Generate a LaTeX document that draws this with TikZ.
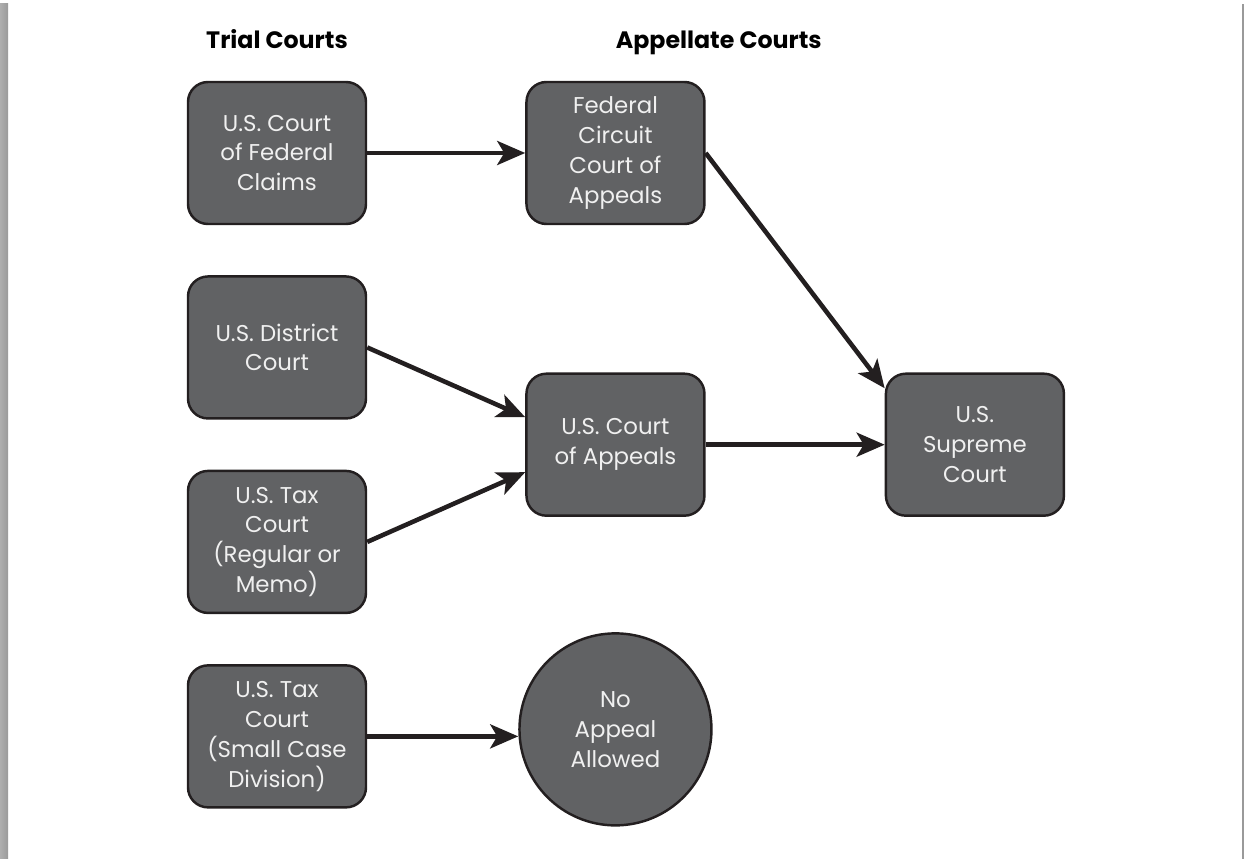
\documentclass[tikz,border=0pt]{standalone}
\usepackage{fontspec}
\setmainfont{Poppins}
\usepackage{tikz}
\usetikzlibrary{arrows.meta, positioning, shapes.geometric, calc}
\definecolor{courtgray}{HTML}{616264}
\definecolor{inkblack}{HTML}{231F20}
\definecolor{framegray}{HTML}{9A9A9A}

\begin{document}
\begin{tikzpicture}[
  node distance=1.0cm and 3.16cm,
  court/.style={draw=inkblack, line width=1.4pt, rounded corners=0.4cm, fill=courtgray, text=white!94!black,
    align=center, minimum width=3.56cm, minimum height=2.84cm, inner sep=2pt,
    font=\fontsize{13}{17}\selectfont},
  verdict/.style={circle, draw=inkblack, line width=1.4pt, fill=courtgray, text=white!94!black,
    align=center, minimum size=3.84cm, inner sep=0pt, font=\fontsize{13}{17}\selectfont},
  header/.style={inner sep=0pt, font=\fontsize{13.5}{15}\selectfont\bfseries},
  arrow/.style={-{Stealth[length=0.56cm, width=0.48cm, inset=0.14cm]}, line width=2.6pt, draw=inkblack}
]
  \useasboundingbox (0,0) rectangle (24.9,-17.18);
  % page frame
  \shade[left color=framegray!80, right color=framegray] (0,-0.08) rectangle (0.16,-17.18);
  \fill[framegray] (24.84,-0.08) rectangle (24.88,-17.18);

  % trial courts
  \node[court] (claims) at (5.54,-3.06) {U.S. Court\\of Federal\\Claims};
  \node[court, below=of claims] (district) {U.S. District\\Court};
  \node[court, below=of district] (taxreg) {U.S. Tax\\Court\\(Regular or\\Memo)};
  \node[court, below=of taxreg] (taxsmall) {U.S. Tax\\Court\\(Small Case\\Division)};

  % appellate courts
  \node[court, right=of claims] (federal) {Federal\\Circuit\\Court of\\Appeals};
  \coordinate (mid) at ($(district)!0.5!(taxreg)$);
  \node[court] (appeals) at (federal |- mid) {U.S. Court\\of Appeals};
  \node[court, right=3.58cm of appeals] (supreme) {U.S.\\Supreme\\Court};
  \node[verdict] (noappeal) at ($(appeals |- taxsmall)+(0,0.14)$) {No\\Appeal\\Allowed};

  % headers
  \node[header, above=0.64cm of claims] (trial) {Trial Courts};
  \node[header, anchor=base west] (appellate) at (trial.base -| federal) {Appellate Courts};

  \draw[arrow] (claims) -- (federal);
  \draw[arrow] (federal.east) -- (supreme.148);
  \draw[arrow] (district.east) -- ([yshift=0.55cm]appeals.west);
  \draw[arrow] (taxreg.east) -- ([yshift=-0.55cm]appeals.west);
  \draw[arrow] (appeals) -- (supreme);
  \draw[arrow] (taxsmall.east) -- (taxsmall.east -| noappeal.west);
\end{tikzpicture}
\end{document}
